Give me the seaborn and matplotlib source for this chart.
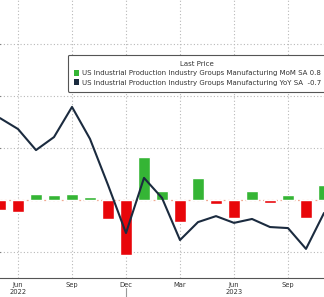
import matplotlib
matplotlib.use("Agg")
import matplotlib.pyplot as plt
import seaborn as sns
import pandas as pd
from matplotlib.patches import Patch

# ---- data ----
months = ["May", "Jun", "Jul", "Aug", "Sep", "Oct", "Nov", "Dec",
          "Jan", "Feb", "Mar", "Apr", "May", "Jun", "Jul", "Aug", "Sep", "Oct", "Nov"]
years = [2022] * 8 + [2023] * 11
mom = [-0.19, -0.23, 0.12, 0.10, 0.12, 0.06, -0.37, -1.06,
       0.83, 0.17, -0.42, 0.42, -0.08, -0.35, 0.17, -0.06, 0.09, -0.35, 0.29]
yoy = [3.15, 2.73, 1.92, 2.42, 3.58, 2.35, 0.58, -1.27,
       0.85, 0.08, -1.54, -0.85, -0.62, -0.88, -0.73, -1.04, -1.08, -1.88, -0.50]
tick_pos = [1, 4, 7, 10, 13, 16]
tick_labels = ["Jun\n2022", "Sep", "Dec", "Mar", "Jun\n2023", "Sep"]
legend_labels = ["US Industrial Production Industry Groups Manufacturing MoM SA 0.8",
                 "US Industrial Production Industry Groups Manufacturing YoY SA  -0.7"]
legend_title = "Last Price"

GREEN = "#35b535"
RED = "#e8060a"
NAVY = "#1b2b3f"

df = pd.DataFrame({
    "idx": list(range(len(months))),
    "month": months,
    "year": years,
    "mom": mom,
    "yoy": yoy,
})
df["sign"] = ["pos" if v >= 0 else "neg" for v in df["mom"]]

sns.set_style("white")
plt.rcParams["font.family"] = ["DejaVu Sans"]

fig = plt.figure(figsize=(3.24, 2.97), dpi=100)
ax = fig.add_axes([0, 19 / 297, 1, 278 / 297])

sns.barplot(data=df, x="idx", y="mom", hue="sign",
            palette={"pos": GREEN, "neg": RED}, dodge=False, width=0.72,
            saturation=1, legend=False, ax=ax, zorder=2)

ax.set_ylim(-1.5, 200 / 52)
ax.set_yticks([-1, 1, 2, 3])
ax.tick_params(axis="y", left=False, labelleft=False)
ax.grid(True, axis="both", which="major", color="#b8b8b8",
        linestyle=(0, (1, 2)), linewidth=0.8)
ax.set_axisbelow(True)
ax.axhline(0, color="#f0a890", linestyle=(0, (1.5, 2)), linewidth=0.9, zorder=1)

ax2 = ax.twinx()
sns.lineplot(data=df, x="idx", y="yoy", color=NAVY, linewidth=1.5, ax=ax2)
ax2.set_ylim(-3.0, 200 / 26)
ax2.tick_params(axis="y", right=False, labelright=False)
ax2.set_ylabel("")
ax2.grid(False)
for s in ax2.spines.values():
    s.set_visible(False)

ax.set_xlim(0, 18)
ax2.set_xlim(0, 18)
ax.set_xticks(tick_pos)
ax.set_xticklabels(tick_labels, fontsize=4.9, color="#333333", linespacing=1.1)
ax.set_xticks(range(len(months)), minor=True)
ax.tick_params(axis="x", which="both", direction="out", length=2.5,
               width=0.6, color="#555555", pad=0.6)
ax.set_xlabel("")
ax.set_ylabel("")

for side in ["left", "right", "top"]:
    ax.spines[side].set_visible(False)
ax.spines["bottom"].set_color("#555555")
ax.spines["bottom"].set_linewidth(0.8)

# year separator below axis
ax.axvline(7, ymin=-0.07, ymax=-0.035, color="#999999", linewidth=0.8, clip_on=False)

handles = [Patch(facecolor=GREEN, edgecolor="none", label=legend_labels[0]),
           Patch(facecolor=NAVY, edgecolor="none", label=legend_labels[1])]
leg = ax2.legend(handles=handles, title=legend_title, loc="upper left",
                 bbox_to_anchor=(68 / 324, (278 - 55) / 278), borderaxespad=0,
                 fontsize=5.0, title_fontsize=5.0, frameon=True, fancybox=True,
                 edgecolor="#555555", facecolor="white", framealpha=1,
                 handlelength=0.8, handleheight=0.9, handletextpad=0.3,
                 labelspacing=0.45, borderpad=0.85)
for t in leg.get_texts():
    t.set_color("#333333")
leg.get_title().set_color("#333333")
leg.get_frame().set_linewidth(0.8)

fig.savefig("out.png", dpi=100)
